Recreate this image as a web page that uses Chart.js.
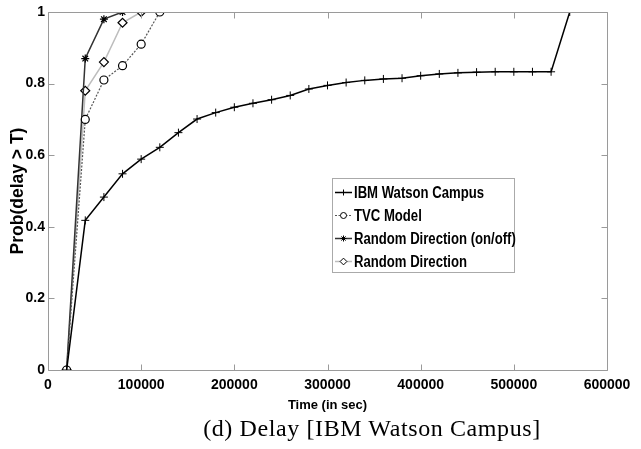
<!DOCTYPE html>
<html>
<head>
<meta charset="utf-8">
<script src="https://cdn.jsdelivr.net/npm/chart.js@4/dist/chart.umd.min.js"></script>
<style>
  html, body { margin: 0; padding: 0; background: #fff; }
  #wrap { position: relative; width: 641px; height: 449px; overflow: hidden; }
  #c { position: absolute; left: 0; top: 0; }
  #caption { position: absolute; left: 372px; top: 416px; transform: translateX(-50%);
    font-family: "Liberation Serif", "Times New Roman", serif; font-size: 24px; line-height: 24px;
    letter-spacing: 0.6px; white-space: nowrap; color: #000; }
</style>
</head>
<body>
<div id="wrap">
  <canvas id="c" width="641" height="449"></canvas>
  <div id="caption">(d) Delay [IBM Watson Campus]</div>
</div>
<script>
// ---- data ----
const ibmTime = [20000, 40000, 60000, 80000, 100000, 120000, 140000, 160000, 180000, 200000,
  220000, 240000, 260000, 280000, 300000, 320000, 340000, 360000, 380000, 400000,
  420000, 440000, 460000, 480000, 500000, 520000, 540000, 560000];
const ibmProb = [0, 0.418, 0.483, 0.548, 0.589, 0.622, 0.663, 0.701, 0.719, 0.734,
  0.745, 0.755, 0.767, 0.785, 0.795, 0.803, 0.809, 0.813, 0.815, 0.822,
  0.827, 0.830, 0.832, 0.833, 0.833, 0.833, 0.833, 1.0];
const tvcTime = [20000, 40000, 60000, 80000, 100000, 120000];
const tvcProb = [0, 0.70, 0.81, 0.85, 0.91, 1.0];
const rdOnOffTime = [20000, 40000, 60000, 80000];
const rdOnOffProb = [0, 0.87, 0.98, 1.0];
const rdTime = [20000, 40000, 60000, 80000, 100000];
const rdProb = [0, 0.78, 0.86, 0.97, 1.0];
const seriesNames = ["IBM Watson Campus", "TVC Model", "Random Direction (on/off)", "Random Direction"];
const xTicks = [0, 100000, 200000, 300000, 400000, 500000, 600000];
const yTicks = [0, 0.2, 0.4, 0.6, 0.8, 1];
const xTitle = "Time (in sec)";
const yTitle = "Prob(delay > T)";

const pts = (xs, ys) => xs.map((x, i) => ({x: x, y: ys[i]}));
const FONT = '"Liberation Sans", Arial, sans-serif';
const AXIS = '#9a9a9a';

function marker(ctx, style, r, x, y) {
  if (Chart.helpers && Chart.helpers.drawPoint) {
    Chart.helpers.drawPoint(ctx, {pointStyle: style, radius: r, borderWidth: 1, rotation: 0}, x, y);
  }
}

const boxPlugin = {
  id: 'box',
  afterDatasetsDraw(chart) {
    const {ctx, chartArea: a, scales} = chart;
    ctx.save();
    ctx.strokeStyle = AXIS;
    ctx.lineWidth = 1;
    const L = Math.round(a.left) + 0.5, R = Math.round(a.right) + 0.5;
    const T = Math.round(a.top) + 0.5, B = Math.round(a.bottom) + 0.5;
    ctx.beginPath();
    ctx.rect(L, T, R - L, B - T);
    const tl = 6;
    xTicks.forEach(v => {
      const px = Math.round(scales.x.getPixelForValue(v)) + 0.5;
      ctx.moveTo(px, B); ctx.lineTo(px, B - tl);
      ctx.moveTo(px, T); ctx.lineTo(px, T + tl);
    });
    yTicks.forEach(v => {
      const py = Math.round(scales.y.getPixelForValue(v)) + 0.5;
      ctx.moveTo(L, py); ctx.lineTo(L + tl, py);
      ctx.moveTo(R, py); ctx.lineTo(R - tl, py);
    });
    ctx.stroke();

    // legend box
    const lx = 332.5, ly = 178.5, lw = 182, lh = 94;
    ctx.fillStyle = '#fff';
    ctx.fillRect(lx, ly, lw, lh);
    ctx.strokeStyle = '#aaa';
    ctx.strokeRect(lx, ly, lw, lh);
    const rows = [192.5, 215.5, 238.5, 261.5];
    chart.data.datasets.forEach((ds, i) => {
      const y = rows[i];
      ctx.save();
      ctx.strokeStyle = ds.borderColor;
      ctx.lineWidth = ds.borderWidth;
      ctx.setLineDash(ds.borderDash || []);
      ctx.beginPath();
      ctx.moveTo(335, y); ctx.lineTo(352, y);
      ctx.stroke();
      ctx.restore();
      ctx.save();
      ctx.fillStyle = ds.pointBackgroundColor;
      ctx.strokeStyle = ds.pointBorderColor;
      ctx.lineWidth = 1;
      marker(ctx, ds.pointStyle, ds.pointRadius * 0.75, 343.5, y);
      ctx.restore();
      ctx.save();
      ctx.fillStyle = '#000';
      ctx.font = 'bold 16px ' + FONT;
      ctx.textBaseline = 'middle';
      ctx.textAlign = 'left';
      ctx.translate(354, y + 1);
      ctx.scale(0.82, 1);
      ctx.fillText(ds.label, 0, 0);
      ctx.restore();
    });
    ctx.restore();
  }
};

new Chart(document.getElementById('c'), {
  type: 'scatter',
  data: {
    datasets: [
      { label: seriesNames[0], data: pts(ibmTime, ibmProb), showLine: true,
        borderColor: '#000', borderWidth: 1.5, pointStyle: 'cross', pointRadius: 4,
        pointBorderColor: '#000', pointBackgroundColor: '#000', pointBorderWidth: 1 },
      { label: seriesNames[1], data: pts(tvcTime, tvcProb), showLine: true,
        borderColor: '#555', borderWidth: 1.2, borderDash: [2, 1.5], pointStyle: 'circle', pointRadius: 4,
        pointBorderColor: '#000', pointBackgroundColor: '#fff', pointBorderWidth: 1.2 },
      { label: seriesNames[2], data: pts(rdOnOffTime, rdOnOffProb), showLine: true,
        borderColor: '#333', borderWidth: 1.5, pointStyle: 'star', pointRadius: 4,
        pointBorderColor: '#000', pointBackgroundColor: '#000', pointBorderWidth: 1.2 },
      { label: seriesNames[3], data: pts(rdTime, rdProb), showLine: true,
        borderColor: '#bdbdbd', borderWidth: 1.5, pointStyle: 'rectRot', pointRadius: 4.5,
        pointBorderColor: '#000', pointBackgroundColor: '#fff', pointBorderWidth: 1.2 }
    ]
  },
  options: {
    responsive: false,
    animation: false,
    layout: { padding: { left: 0, top: 12, right: 34, bottom: 36 } },
    plugins: { legend: { display: false }, tooltip: { enabled: false } },
    scales: {
      x: {
        type: 'linear', min: 0, max: 600000,
        afterBuildTicks: s => { s.ticks = xTicks.map(v => ({value: v})); },
        afterFit: s => { s.height = 43; },
        grid: { display: false, drawTicks: false },
        border: { display: false },
        ticks: { color: '#000', padding: 7, maxRotation: 0, autoSkip: false,
          font: { family: FONT, size: 14, weight: 'bold' }, callback: v => String(v) },
        title: { display: true, text: xTitle, color: '#000', padding: 0,
          font: { family: FONT, size: 13, weight: 'bold' } }
      },
      y: {
        type: 'linear', min: 0, max: 1,
        afterBuildTicks: s => { s.ticks = yTicks.map(v => ({value: v})); },
        afterFit: s => { s.width = 48; },
        grid: { display: false, drawTicks: false },
        border: { display: false },
        ticks: { color: '#000', padding: 3, autoSkip: false,
          font: { family: FONT, size: 14, weight: 'bold' }, callback: v => String(+v.toFixed(1)) },
        title: { display: true, text: yTitle, color: '#000', padding: { top: 8, bottom: 0 },
          font: { family: FONT, size: 17.5, weight: 'bold' } }
      }
    }
  },
  plugins: [boxPlugin]
});
</script>
</body>
</html>
